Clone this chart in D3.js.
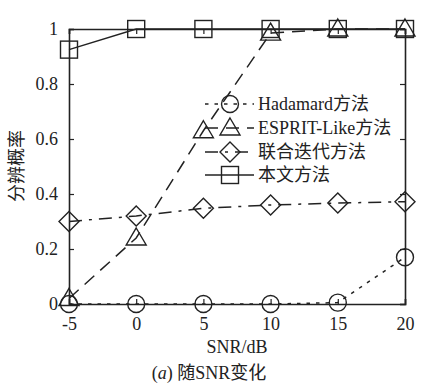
<!DOCTYPE html>
<html>
<head>
<meta charset="utf-8">
<script src="https://cdn.jsdelivr.net/npm/d3@7/dist/d3.min.js"></script>
<style>
  html, body { margin: 0; padding: 0; background: #fff; }
  svg { display: block; }
</style>
</head>
<body>
<svg id="chart" width="422" height="384"></svg>
<script>
// SNR sweep (dB) and resolution probability for each method
const snr = [-5, 0, 5, 10, 15, 20];
const hadamard = [0, 0, 0, 0, 0.005, 0.17];
const espritLike = [0.02, 0.24, 0.63, 0.985, 1, 1];
const jointIter = [0.30, 0.32, 0.348, 0.36, 0.367, 0.372];
const proposed = [0.925, 1, 1, 1, 1, 1];

const xTicks = [-5, 0, 5, 10, 15, 20];
const yTicks = [0, 0.2, 0.4, 0.6, 0.8, 1];
const xTickLabels = ["-5", "0", "5", "10", "15", "20"];
const yTickLabels = ["0", "0.2", "0.4", "0.6", "0.8", "1"];

const legendNames = ["Hadamard方法", "ESPRIT-Like方法", "联合迭代方法", "本文方法"];

const FONT = '"Liberation Serif", Tinos, "Times New Roman", "Noto Sans CJK SC", serif';

const svg = d3.select("#chart").attr("font-family", FONT);
const margin = { left: 69, right: 17, top: 29, bottom: 80 };
const W = 422, H = 384;
const x = d3.scaleLinear().domain([-5, 20]).range([margin.left, W - margin.right]);
const y = d3.scaleLinear().domain([0, 1]).range([H - margin.bottom, margin.top]);

const ink = "#222";

// axes with inward ticks
const gx = svg.append("g").attr("transform", `translate(0,${y(0)})`)
  .call(d3.axisBottom(x).tickValues(xTicks).tickSize(-5).tickPadding(13)
    .tickFormat((d, i) => xTickLabels[i]));
const gxTop = svg.append("g").attr("transform", `translate(0,${y(1)})`)
  .call(d3.axisTop(x).tickValues(xTicks).tickSize(-5).tickFormat(""));
const gy = svg.append("g").attr("transform", `translate(${x(-5)},0)`)
  .call(d3.axisLeft(y).tickValues(yTicks).tickSize(-5).tickPadding(11)
    .tickFormat((d, i) => yTickLabels[i]));
const gyRight = svg.append("g").attr("transform", `translate(${x(20)},0)`)
  .call(d3.axisRight(y).tickValues(yTicks).tickSize(-5).tickFormat(""));

[gx, gxTop, gy, gyRight].forEach(g => {
  g.attr("font-family", FONT).attr("font-size", 18);
  g.select(".domain").attr("stroke", ink).attr("stroke-width", 1.6);
  g.selectAll(".tick line").attr("stroke", ink).attr("stroke-width", 1.2);
  g.selectAll(".tick text").attr("fill", ink);
});

// series definitions
const series = [
  { name: legendNames[0], values: hadamard, dash: "3.5,6", marker: "circle" },
  { name: legendNames[1], values: espritLike, dash: "13,8", marker: "triangle" },
  { name: legendNames[2], values: jointIter, dash: "13,7,3,7", marker: "diamond" },
  { name: legendNames[3], values: proposed, dash: null, marker: "square" }
];

const line = d3.line().x((d, i) => x(snr[i])).y(d => y(d));

function drawMarker(g, type, cx, cy) {
  let el;
  if (type === "circle") {
    el = g.append("circle").attr("cx", cx).attr("cy", cy).attr("r", 8.5);
  } else if (type === "square") {
    el = g.append("rect").attr("x", cx - 8.5).attr("y", cy - 8.5).attr("width", 17).attr("height", 17);
  } else if (type === "triangle") {
    el = g.append("path").attr("d", `M${cx},${cy - 10}L${cx + 10},${cy + 7}L${cx - 10},${cy + 7}Z`);
  } else {
    el = g.append("path").attr("d", `M${cx},${cy - 10}L${cx + 10},${cy}L${cx},${cy + 10}L${cx - 10},${cy}Z`);
  }
  el.attr("fill", "none").attr("stroke", ink).attr("stroke-width", 1.4);
}

series.forEach(sr => {
  const g = svg.append("g");
  g.append("path").datum(sr.values).attr("d", line)
    .attr("fill", "none").attr("stroke", ink).attr("stroke-width", 1.5)
    .attr("stroke-dasharray", sr.dash);
  sr.values.forEach((v, i) => drawMarker(g, sr.marker, x(snr[i]), y(v)));
});

// legend
const legendRowsY = [104, 128, 152, 175];
const lg = svg.append("g");
series.forEach((sr, i) => {
  const ly = legendRowsY[i];
  lg.append("line").attr("x1", 205).attr("x2", 254).attr("y1", ly).attr("y2", ly)
    .attr("stroke", ink).attr("stroke-width", 1.5).attr("stroke-dasharray", sr.dash);
  drawMarker(lg, sr.marker, 230, ly);
  lg.append("text").attr("x", 258).attr("y", ly + 6).attr("font-size", 18)
    .attr("fill", ink).text(sr.name);
});

// axis titles
svg.append("text").attr("x", (x(-5) + x(20)) / 2).attr("y", 353)
  .attr("text-anchor", "middle").attr("font-size", 18).attr("fill", ink).text("SNR/dB");

svg.append("text").attr("transform", "translate(23,166) rotate(-90)")
  .attr("text-anchor", "middle").attr("font-size", 18).attr("fill", ink).text("分辨概率");

const cap = svg.append("text").attr("x", 209).attr("y", 379)
  .attr("text-anchor", "middle").attr("font-size", 18).attr("fill", ink);
cap.append("tspan").text("(");
cap.append("tspan").attr("font-style", "italic").text("a");
cap.append("tspan").text(") 随SNR变化");
</script>
</body>
</html>
